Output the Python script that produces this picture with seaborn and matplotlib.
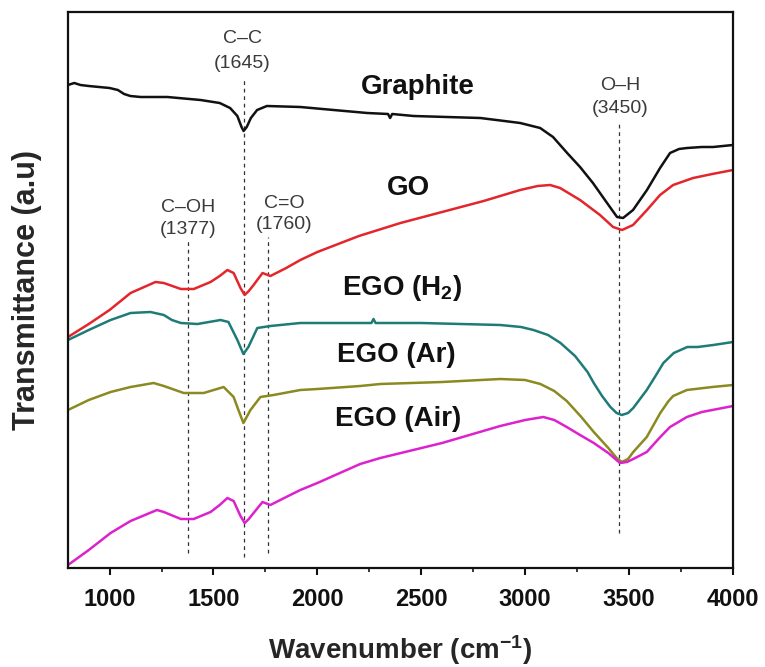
import numpy as np
import pandas as pd
import matplotlib
matplotlib.use("Agg")
import matplotlib.pyplot as plt
from matplotlib.ticker import MultipleLocator
import seaborn as sns

# ---------------- data (transmittance in a.u.) ----------------
graphite_wn = [800, 830, 860, 900, 950, 1000, 1040, 1070, 1100, 1150, 1278, 1438, 1530, 1580,
               1615, 1635, 1645, 1660, 1680, 1710, 1757, 1918, 2078, 2240, 2340, 2350, 2360,
               2463, 2784, 2900, 2976, 3072, 3134, 3202, 3264, 3326, 3394, 3442, 3471, 3519,
               3586, 3649, 3697, 3740, 3779, 3850, 3904, 4000]
graphite_t = [483, 485, 483, 482, 481, 480, 478, 474, 472, 471, 471, 468, 465, 460,
              452, 441, 437, 441, 450, 458, 462, 461, 458, 455, 454, 450, 454,
              452, 450, 447, 445, 440, 431, 415, 401, 385, 365, 351, 350, 358,
              378, 400, 415, 419, 420, 421, 421, 423]

go_wn = [800, 900, 1000, 1101, 1221, 1261, 1343, 1405, 1486, 1530, 1567, 1597, 1630, 1650,
         1670, 1693, 1736, 1774, 1850, 1918, 2000, 2200, 2400, 2600, 2800, 2976, 3060, 3120,
         3168, 3264, 3360, 3423, 3466, 3519, 3586, 3649, 3712, 3808, 3900, 4000]
go_t = [231, 244, 258, 275, 286, 285, 279, 279, 286, 292, 298, 295, 280, 273,
        277, 283, 295, 292, 300, 308, 316, 332, 345, 356, 367, 378, 382, 383,
        380, 368, 353, 341, 338, 343, 358, 373, 383, 390, 394, 398]

h2_wn = [800, 900, 1005, 1101, 1197, 1261, 1300, 1343, 1423, 1534, 1572, 1615, 1644, 1668,
         1711, 1774, 1918, 2206, 2260, 2270, 2280, 2500, 2880, 2980, 3040, 3110, 3170, 3240,
         3300, 3330, 3370, 3410, 3440, 3465, 3495, 3520, 3585, 3630, 3665, 3715, 3780, 3830,
         3905, 4000]
h2_t = [228, 238, 248, 255, 256, 253, 248, 245, 244, 248, 246, 228, 214, 221,
        240, 242, 245, 245, 245, 249, 245, 245, 243, 241, 238, 233, 225, 212,
        196, 185, 172, 161, 155, 153, 155, 160, 178, 193, 205, 215, 221, 221,
        223, 226]

ar_wn = [800, 900, 1005, 1101, 1212, 1261, 1357, 1453, 1549, 1597, 1620, 1644, 1678, 1726,
         1789, 1918, 2000, 2206, 2303, 2600, 2880, 3000, 3073, 3140, 3200, 3270, 3330, 3400,
         3440, 3465, 3495, 3520, 3585, 3650, 3690, 3712, 3778, 3900, 4000]
ar_t = [158, 168, 176, 181, 185, 182, 175, 175, 181, 171, 158, 145, 158, 171,
        173, 178, 179, 182, 184, 186, 189, 188, 184, 177, 167, 151, 136, 120,
        110, 106, 109, 116, 131, 155, 167, 172, 178, 181, 183]

air_wn = [800, 900, 1005, 1101, 1228, 1261, 1343, 1405, 1486, 1530, 1567, 1597, 1630, 1650,
          1670, 1693, 1736, 1774, 1850, 1918, 2000, 2206, 2303, 2600, 2880, 3000, 3087, 3140,
          3200, 3264, 3330, 3400, 3456, 3490, 3520, 3585, 3650, 3697, 3778, 3850, 3900, 4000]
air_t = [3, 18, 35, 47, 58, 56, 49, 49, 56, 63, 70, 67, 52, 45,
         49, 55, 66, 63, 71, 78, 85, 104, 110, 125, 142, 148, 151, 148,
         141, 133, 125, 115, 105, 106, 109, 116, 131, 141, 151, 156, 158, 162]

series_names = ["Graphite", "GO", "EGO (H2)", "EGO (Ar)", "EGO (Air)"]
series_colors = ["#111111", "#e3262c", "#1f7b77", "#8a8a20", "#dc22cc"]

# band assignments (annotation)
band_names = ["C\u2013OH", "C\u2013C", "C=O", "O\u2013H"]
band_wn = [1377, 1645, 1760, 3450]
band_label_wn = [1380, 1640, 1840, 3457]
band_line_top = [330, 490, 331, 445]
band_line_bottom = [15, 11, 15, 35]
band_name_y = [356, 525, 360, 478]
band_num_y = [334, 500, 339, 455]

# series text labels
label_texts = ["Graphite", "GO", "EGO (H$_\\mathbf{2}$)", "EGO (Ar)", "EGO (Air)"]
label_wn = [2207, 2336, 2120, 2096, 2087]
label_y = [474, 373, 273, 206, 142]

x_ticks = [1000, 1500, 2000, 2500, 3000, 3500, 4000]

# ---------------- build table ----------------
frames = []
for name, wn, t in zip(series_names,
                       [graphite_wn, go_wn, h2_wn, ar_wn, air_wn],
                       [graphite_t, go_t, h2_t, ar_t, air_t]):
    frames.append(pd.DataFrame({"Wavenumber": wn, "T": t, "sample": name}))
df = pd.concat(frames, ignore_index=True)

# ---------------- style ----------------
sns.set_style("ticks")
plt.rcParams["font.family"] = ["Liberation Sans", "DejaVu Sans"]
plt.rcParams["mathtext.fontset"] = "custom"
plt.rcParams["mathtext.rm"] = "Liberation Sans"
plt.rcParams["mathtext.bf"] = "Liberation Sans:bold"
plt.rcParams["mathtext.it"] = "Liberation Sans:italic"

fig = plt.figure(figsize=(7.65, 6.67), dpi=100)
ax = fig.add_axes([68 / 765, 99 / 667, 665 / 765, 556 / 667])

sns.lineplot(data=df, x="Wavenumber", y="T", hue="sample", hue_order=series_names,
             palette=dict(zip(series_names, series_colors)), linewidth=1.8,
             legend=False, ax=ax, sort=False, estimator=None)
for ln in ax.get_lines():
    ln.set_solid_joinstyle("round")
    ln.set_solid_capstyle("round")

# dashed band lines
for w, top, bot in zip(band_wn, band_line_top, band_line_bottom):
    ax.plot([w, w], [bot, top], linestyle=(0, (3, 3)), color="#333333", linewidth=0.9, zorder=1)

for name, lx, ny, my, num in zip(band_names, band_label_wn, band_name_y, band_num_y, band_wn):
    ax.text(lx, ny, name, ha="center", va="baseline", fontsize=14, color="#3a3a3a")
    ax.text(lx, my, f"({num})", ha="center", va="baseline", fontsize=14, color="#3a3a3a")

for txt, lx, ly in zip(label_texts, label_wn, label_y):
    ax.text(lx, ly, txt, ha="left", va="baseline", fontsize=20, fontweight="bold", color="#111111")

ax.set_xlim(800, 4000)
ax.set_ylim(0, 556)
ax.set_xticks(x_ticks)
ax.xaxis.set_minor_locator(MultipleLocator(250))
ax.set_yticks([])
ax.tick_params(axis="x", which="major", direction="out", length=5, width=1.5,
               labelsize=17, pad=9.5, colors="#111111")
ax.tick_params(axis="x", which="minor", direction="out", length=3, width=1.3)
for lab in ax.get_xticklabels():
    lab.set_fontweight("bold")
for sp in ax.spines.values():
    sp.set_visible(True)
    sp.set_linewidth(1.6)
    sp.set_color("#111111")

ax.set_xlabel("Wavenumber (cm$^{\\mathbf{-1}}$)", fontsize=20, fontweight="bold", labelpad=16)
ax.set_ylabel("Transmittance (a.u)", fontsize=22, fontweight="bold", labelpad=19)

fig.savefig("out.png", dpi=100)
